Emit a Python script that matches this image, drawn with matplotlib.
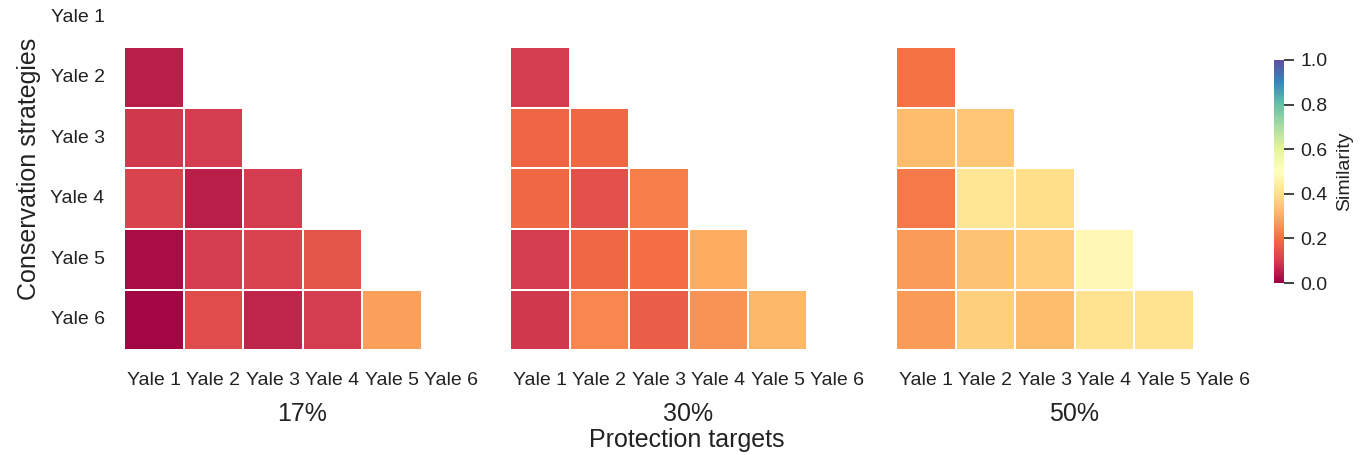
import matplotlib

matplotlib.use("Agg")
import matplotlib.pyplot as plt
import numpy as np
import seaborn as sns

sns.set_theme(style="white")
plt.rcParams["font.family"] = ["Liberation Sans", "DejaVu Sans"]

labels = ["Yale 1", "Yale 2", "Yale 3", "Yale 4", "Yale 5", "Yale 6"]
targets = ["17%", "30%", "50%"]

# lower triangle rows (Yale 2 .. Yale 6)
sim_17 = [
    [0.05],
    [0.09, 0.10],
    [0.11, 0.05, 0.10],
    [0.02, 0.10, 0.11, 0.15],
    [0.01, 0.13, 0.06, 0.10, 0.28],
]
sim_30 = [
    [0.10],
    [0.18, 0.19],
    [0.19, 0.14, 0.23],
    [0.10, 0.19, 0.20, 0.30],
    [0.09, 0.24, 0.17, 0.26, 0.32],
]
sim_50 = [
    [0.21],
    [0.33, 0.35],
    [0.22, 0.42, 0.40],
    [0.27, 0.34, 0.36, 0.48],
    [0.27, 0.37, 0.33, 0.41, 0.41],
]


def to_matrix(rows):
    m = np.full((6, 6), np.nan)
    for i, row in enumerate(rows):
        m[i + 1, : len(row)] = row
    return m


fig = plt.figure(figsize=(13.6, 4.55), dpi=100)
lefts = [124, 510, 896]
cax = fig.add_axes([1274 / 1360, (455 - 283) / 455, 10 / 1360, 223 / 455])

for k, (data, name) in enumerate(zip([sim_17, sim_30, sim_50], targets)):
    ax = fig.add_axes([lefts[k] / 1360, (455 - 350) / 455, 357 / 1360, 363 / 455])
    m = to_matrix(data)
    sns.heatmap(
        m,
        ax=ax,
        cmap="Spectral",
        vmin=0,
        vmax=1,
        mask=np.isnan(m),
        linewidths=1.3,
        linecolor="white",
        cbar=(k == 0),
        cbar_ax=cax if k == 0 else None,
        xticklabels=labels,
        yticklabels=labels if k == 0 else False,
    )
    ax.tick_params(axis="x", length=0, labelsize=14, colors="#222222", pad=16)
    ax.set_xticklabels(labels, rotation=0)
    if k == 0:
        ax.set_yticklabels(labels, rotation=0)
        ax.tick_params(axis="y", length=0, labelsize=14, colors="#222222", pad=14)
        ax.set_ylabel("Conservation strategies", fontsize=18, color="#222222", labelpad=7)
    ax.set_xlabel(name, fontsize=18, color="#222222", labelpad=9)

cax.tick_params(length=7, width=1.3, color="#333333", labelsize=14, labelcolor="#222222", pad=5)
cax.set_yticks([0, 0.2, 0.4, 0.6, 0.8, 1.0])
cax.set_ylabel("Similarity", fontsize=14, color="#222222", labelpad=6)
for s in cax.spines.values():
    s.set_visible(False)

fig.text(687 / 1360, 1 - 440 / 455, "Protection targets", ha="center", va="center",
         fontsize=18, color="#222222")

fig.savefig("out.png", dpi=100)
